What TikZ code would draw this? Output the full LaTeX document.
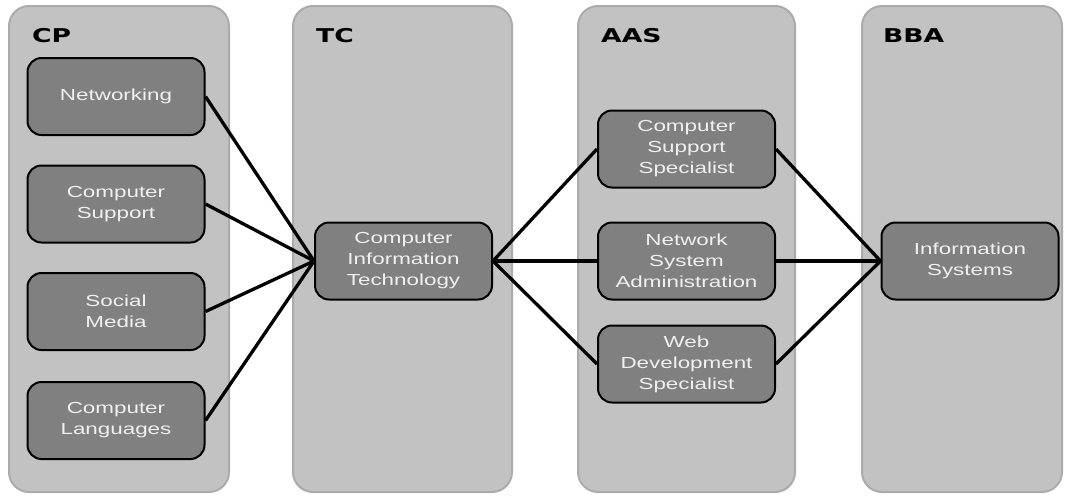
\documentclass[tikz,border=0pt]{standalone}
\usepackage{fontspec}
\setmainfont{Liberation Sans}
\newfontfamily\widefont[FakeStretch=1.4]{Liberation Sans}
\newfontfamily\headfont[FakeStretch=1.4]{DejaVu Sans}

\tikzset{
  lane/.style={draw=black!33, line width=2pt, fill=black!24, rounded corners=20pt},
  lanetitle/.style={anchor=base west, inner sep=0pt,
    font=\headfont\bfseries\fontsize{19}{20}\selectfont},
  course/.style={draw=black, line width=2pt, fill=black!50, rounded corners=14pt,
    minimum width=177pt, minimum height=77pt, inner sep=0pt, align=center,
    text=white!94!black, font=\widefont\fontsize{16}{21}\selectfont},
  link/.style={line width=3.3pt}
}

\begin{document}
\begin{tikzpicture}[x=1pt, y=1pt]
\useasboundingbox (0,0) rectangle (1068,-496);

% the four lanes
\draw [lane] (9,-6)   rectangle (229,-492);
\draw [lane] (293,-6) rectangle (512,-492);
\draw [lane] (578,-6) rectangle (795,-492);
\draw [lane] (862,-6) rectangle (1062,-492);
\node [lanetitle] (cp)  at (32,-42)  {CP};
\node [lanetitle] (tc)  at (316,-42) {TC};
\node [lanetitle] (aas) at (601,-42) {AAS};
\node [lanetitle] (bba) at (883,-42) {BBA};

% certificates
\node [course] (net)  at (116,-96.5) {Networking};
\node [course] (sup)  at (116,-204)  {Computer\\Support};
\node [course] (soc)  at (116,-311.5) {Social\\Media};
\node [course] (lang) at (116,-420.5) {Computer\\Languages};

\node [course] (cit) at (403.5,-261) {Computer\\Information\\Technology};

\node [course] (css) at (686.5,-149) {Computer\\Support\\Specialist};
\node [course] (nsa) at (686.5,-261) {Network\\System\\Administration};
\node [course] (wds) at (686.5,-364) {Web\\Development\\Specialist};

\node [course] (is) at (970,-261) {Information\\Systems};

% everything funnels through the TC
\foreach \n in {net, sup, soc, lang}
  \draw [link] (\n.east) -- (cit.west);
\foreach \n in {css, nsa, wds} {
  \draw [link] (cit.east) -- (\n.west);
  \draw [link] (\n.east) -- (is.west);
}
\end{tikzpicture}
\end{document}
